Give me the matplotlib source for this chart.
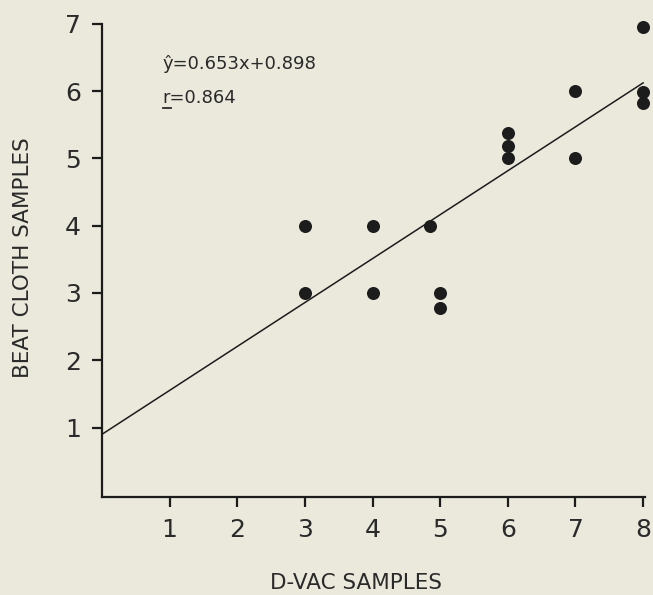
import matplotlib.pyplot as plt

# D-VAC vs beat cloth sample counts
dvac = [3, 3, 4, 4, 4.85, 5, 5, 6, 6, 6, 7, 7, 8, 8, 8]
beat_cloth = [4, 3, 4, 3, 4, 3, 2.78, 5.38, 5.19, 5.0, 6.0, 5.0, 6.95, 5.98, 5.82]

slope = 0.653
intercept = 0.898
r_value = 0.864

x_ticks = [1, 2, 3, 4, 5, 6, 7, 8]
y_ticks = [1, 2, 3, 4, 5, 6, 7]

BG = "#ebe9dc"
INK = "#1c1c1c"
TXT = "#2a2a2a"
FONT = "DejaVu Sans"

fig = plt.figure(figsize=(6.53, 5.95), dpi=100, facecolor=BG)
ax = fig.add_axes([0.156, 0.165, 0.832, 0.795], facecolor=BG)

ax.scatter(dvac, beat_cloth, s=88, color=INK, zorder=3, linewidths=0, clip_on=False)
ax.plot([0, 8], [intercept, intercept + slope * 8], color=INK, lw=1.1, zorder=2)

ax.set_xlim(0, 8.03)
ax.set_ylim(-0.03, 7)
ax.set_xticks(x_ticks)
ax.set_yticks(y_ticks)
ax.tick_params(direction="out", length=7, width=1.6, color=INK, labelcolor=TXT,
               labelsize=18, pad=8)
for lab in ax.get_xticklabels() + ax.get_yticklabels():
    lab.set_family(FONT)

for side in ("top", "right"):
    ax.spines[side].set_visible(False)
for side in ("left", "bottom"):
    ax.spines[side].set_linewidth(1.6)
    ax.spines[side].set_color(INK)

fig.text(356 / 653, 1 - 583 / 595, "D-VAC SAMPLES", family=FONT, fontsize=15.5,
         color=TXT, ha="center", va="center")
fig.text(23 / 653, 1 - 258 / 595, "BEAT CLOTH SAMPLES", family=FONT, fontsize=15.5,
         color=TXT, ha="center", va="center", rotation=90)

ax.text(0.112, 0.905, "ŷ=0.653x+0.898", transform=ax.transAxes, family=FONT,
        fontsize=13, color=TXT, va="baseline")
ax.text(0.112, 0.833, f"r={r_value}", transform=ax.transAxes, family=FONT,
        fontsize=13, color=TXT, va="baseline")
# underline under the r
ax.plot([0.112, 0.128], [0.822, 0.822], transform=ax.transAxes, color=TXT,
        lw=1.3, clip_on=False)

fig.savefig("out.png", dpi=100, facecolor=BG)
